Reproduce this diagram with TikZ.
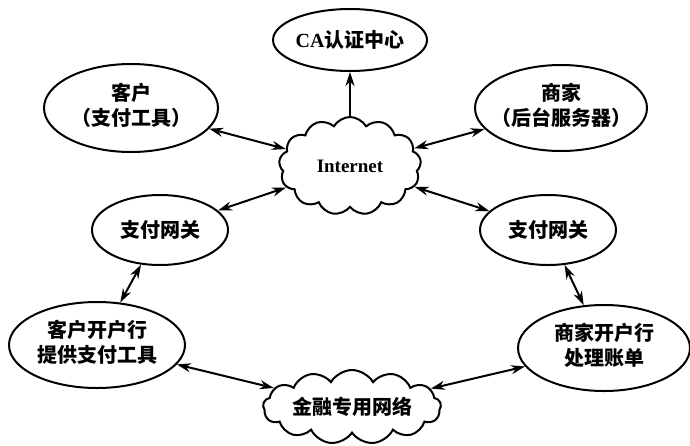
\documentclass[tikz,border=0pt]{standalone}
\usepackage{fontspec}
\setmainfont{Liberation Serif}
\newfontfamily\cjk{Noto Sans CJK SC}
\usetikzlibrary{shapes.geometric,shapes.symbols,arrows.meta}
\newcommand\zerow[1]{\makebox[0pt]{\begin{tabular}{@{}c@{}}#1\end{tabular}}}
\begin{document}
\begin{tikzpicture}[x=1pt,y=-1pt,
  oval/.style={ellipse,draw,line width=2pt,inner sep=0pt,font=\fontsize{20}{24}\selectfont\cjk\bfseries,align=center},
  cl/.style={cloud,draw,line width=2pt,cloud puffs=13,cloud puff arc=120,cloud ignores aspect,inner sep=0pt,align=center},
  link/.style={line width=2pt,{Stealth[length=14pt,width=9pt]}-{Stealth[length=14pt,width=9pt]}},
  one/.style={line width=2pt,-{Stealth[length=14pt,width=9pt]}}]
\useasboundingbox (0,0) rectangle (690,445);
\node[oval,minimum width=148pt,minimum height=62pt] (ca) at (350,40) {{\rmfamily\bfseries CA}认证中心};
\node[oval,minimum width=174pt,minimum height=88pt] (kh) at (131,108) {\zerow{客户\\（支付工具）}};
\node[oval,minimum width=172pt,minimum height=86pt] (sj) at (561,108) {\zerow{商家\\（后台服务器）}};
\node[cl,minimum width=142pt,minimum height=98pt,font=\fontsize{19}{22}\selectfont\bfseries] (net) at (350,166) {Internet};
\node[oval,minimum width=136pt,minimum height=70pt] (gl) at (160,230) {支付网关};
\node[oval,minimum width=136pt,minimum height=70pt] (gr) at (548,230) {支付网关};
\node[oval,minimum width=176pt,minimum height=86pt] (bl) at (97,345) {\zerow{客户开户行\\提供支付工具}};
\node[oval,minimum width=172pt,minimum height=86pt] (br) at (604,348) {\zerow{商家开户行\\处理账单}};
\node[cl,minimum width=178pt,minimum height=74pt,font=\fontsize{20}{24}\selectfont\cjk\bfseries] (fin) at (352,407) {金融专用网络};
\draw[one] (net) -- (ca);
\draw[link] (kh) -- (net);
\draw[link] (sj) -- (net);
\draw[link] (gl) -- (net);
\draw[link] (gr) -- (net);
\draw[link] (gl) -- (bl);
\draw[link] (gr) -- (br);
\draw[link] (bl) -- (fin);
\draw[link] (br) -- (fin);
\end{tikzpicture}
\end{document}
